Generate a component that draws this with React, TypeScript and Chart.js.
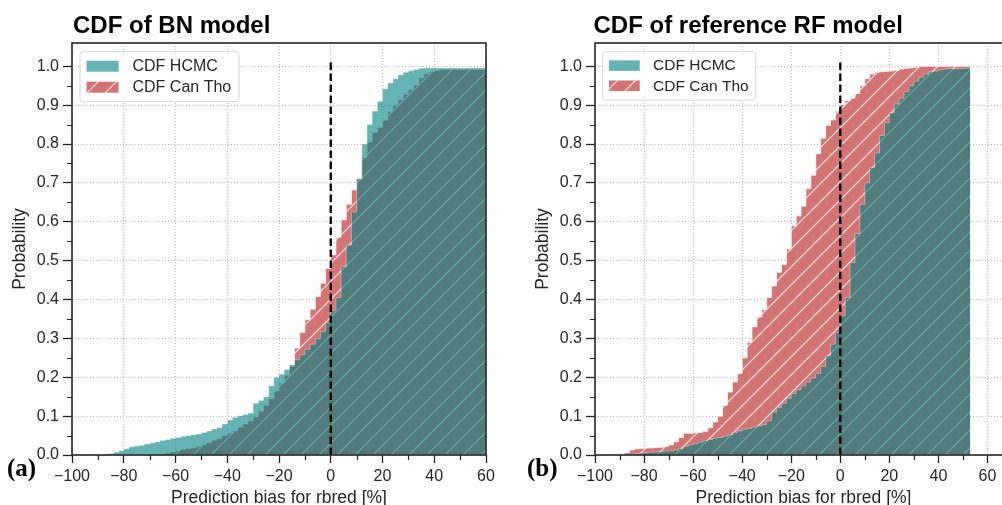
import React, { useEffect, useRef } from 'react';
import { Chart, registerables } from 'chart.js';

Chart.register(...registerables);

// ---------- data ----------
const xLeft = [-90, -88, -86, -84, -82, -80, -78, -76, -74, -72, -70, -68, -66, -64, -62, -60, -58, -56, -54, -52, -50, -48, -46, -44, -42, -40, -38, -36, -34, -32, -30, -28, -26, -24, -22, -20, -18, -16, -14, -12, -10, -8, -6, -4, -2, 0, 2, 4, 6, 8, 10, 12, 14, 16, 18, 20, 22, 24, 26, 28, 30, 32, 34, 36, 38, 40, 42, 44, 46, 48, 50, 52, 54, 56, 58, 60];
const hcmcLeft = [0, 0, 0.001, 0.003, 0.007, 0.011, 0.016, 0.021, 0.023, 0.025, 0.028, 0.031, 0.034, 0.037, 0.040, 0.043, 0.045, 0.048, 0.050, 0.052, 0.054, 0.058, 0.062, 0.067, 0.071, 0.080, 0.090, 0.097, 0.101, 0.104, 0.108, 0.133, 0.140, 0.150, 0.178, 0.200, 0.208, 0.220, 0.232, 0.245, 0.258, 0.272, 0.285, 0.299, 0.318, 0.340, 0.372, 0.405, 0.485, 0.540, 0.625, 0.710, 0.800, 0.850, 0.885, 0.910, 0.942, 0.957, 0.968, 0.978, 0.985, 0.989, 0.992, 0.995, 0.996, 0.996, 0.996, 0.996, 0.996, 0.996, 0.996, 0.996, 0.996, 0.996, 0.996, 0.996];
const canThoLeft = [0, 0, 0, 0, 0, 0, 0, 0, 0, 0, 0, 0, 0, 0.002, 0.005, 0.008, 0.011, 0.014, 0.017, 0.019, 0.022, 0.027, 0.032, 0.038, 0.043, 0.050, 0.056, 0.063, 0.072, 0.080, 0.088, 0.098, 0.113, 0.128, 0.145, 0.165, 0.185, 0.205, 0.228, 0.275, 0.315, 0.348, 0.375, 0.408, 0.442, 0.480, 0.515, 0.560, 0.605, 0.645, 0.682, 0.712, 0.765, 0.805, 0.830, 0.843, 0.862, 0.883, 0.900, 0.914, 0.928, 0.940, 0.952, 0.970, 0.981, 0.986, 0.989, 0.991, 0.992, 0.992, 0.992, 0.992, 0.992, 0.992, 0.992, 0.992];

const xRight = [-90, -88, -86, -84, -82, -80, -78, -76, -74, -72, -70, -68, -66, -64, -62, -60, -58, -56, -54, -52, -50, -48, -46, -44, -42, -40, -38, -36, -34, -32, -30, -28, -26, -24, -22, -20, -18, -16, -14, -12, -10, -8, -6, -4, -2, 0, 2, 4, 6, 8, 10, 12, 14, 16, 18, 20, 22, 24, 26, 28, 30, 32, 34, 36, 38, 40, 42, 44, 46, 48, 50, 52, 53];
const hcmcRight = [0, 0, 0, 0.002, 0.004, 0.005, 0.006, 0.007, 0.008, 0.009, 0.010, 0.011, 0.013, 0.017, 0.022, 0.026, 0.029, 0.033, 0.037, 0.040, 0.043, 0.045, 0.048, 0.052, 0.057, 0.062, 0.066, 0.069, 0.072, 0.075, 0.078, 0.088, 0.110, 0.122, 0.133, 0.146, 0.158, 0.168, 0.178, 0.188, 0.198, 0.210, 0.228, 0.255, 0.285, 0.315, 0.358, 0.405, 0.495, 0.570, 0.645, 0.700, 0.740, 0.777, 0.822, 0.855, 0.880, 0.903, 0.918, 0.935, 0.950, 0.962, 0.972, 0.980, 0.986, 0.988, 0.991, 0.993, 0.994, 0.994, 0.994, 0.995, 0.995];
const canThoRight = [0, 0.002, 0.006, 0.013, 0.016, 0.017, 0.018, 0.018, 0.019, 0.020, 0.022, 0.026, 0.034, 0.045, 0.056, 0.056, 0.057, 0.058, 0.061, 0.070, 0.085, 0.100, 0.128, 0.162, 0.188, 0.210, 0.250, 0.290, 0.330, 0.355, 0.374, 0.405, 0.435, 0.470, 0.490, 0.530, 0.590, 0.615, 0.640, 0.685, 0.720, 0.775, 0.815, 0.848, 0.862, 0.885, 0.902, 0.912, 0.918, 0.930, 0.950, 0.968, 0.980, 0.985, 0.986, 0.987, 0.988, 0.990, 0.993, 0.995, 0.996, 0.998, 1.0, 1.0, 1.0, 1.0, 1.0, 1.0, 1.0, 1.0, 1.0, 1.0, 1.0];

const refLineX = [0, 0];
const refLineY = [0, 1.01];

const xTickVals = [-100, -80, -60, -40, -20, 0, 20, 40, 60];
const xMinorVals = [-90, -70, -50, -30, -10, 10, 30, 50];
const yTickVals = [0, 0.1, 0.2, 0.3, 0.4, 0.5, 0.6, 0.7, 0.8, 0.9, 1.0];
const yMinorVals = [0.05, 0.15, 0.25, 0.35, 0.45, 0.55, 0.65, 0.75, 0.85, 0.95];

const seriesLabels = ['CDF HCMC', 'CDF Can Tho'];
const xAxisLabel = 'Prediction bias for rbred [%]';
const yAxisLabel = 'Probability';

// ---------- styles ----------
const SANS = '"Liberation Sans", Arial, sans-serif';
const SERIF = '"Liberation Serif", "Times New Roman", serif';
const TEAL = 'rgba(0,128,128,0.6)';
const RED = 'rgb(209,116,115)';
const TEXT = '#262626';

type PanelCfg = {
  left: number;
  width: number;
  padLeft: number;
  padRight: number;
  xMax: number;
  title: string;
  titleX: number;
  letter: string;
  letterX: number;
  legW: number;
  legH: number;
  legFont: number;
  legS: number;
  xs: number[];
  hcmc: number[];
  ct: number[];
};

const panels: PanelCfg[] = [
  {
    left: 0, width: 500, padLeft: 0, padRight: 14, xMax: 60,
    title: 'CDF of BN model', titleX: 73, letter: '(a)', letterX: 7,
    legW: 159, legH: 50, legFont: 16, legS: 1,
    xs: xLeft, hcmc: hcmcLeft, ct: canThoLeft,
  },
  {
    left: 500, width: 520, padLeft: 23, padRight: 8, xMax: 70,
    title: 'CDF of reference RF model', titleX: 93.5, letter: '(b)', letterX: 27,
    legW: 153, legH: 48.5, legFont: 15.5, legS: 0.96,
    xs: xRight, hcmc: hcmcRight, ct: canThoRight,
  },
];

function makeHatch(ctx: CanvasRenderingContext2D): CanvasPattern | string {
  const S = 18;
  const tile = document.createElement('canvas');
  tile.width = S;
  tile.height = S;
  const t = tile.getContext('2d');
  if (!t) return RED;
  t.fillStyle = RED;
  t.fillRect(0, 0, S, S);
  t.strokeStyle = 'rgba(255,236,236,0.95)';
  t.lineWidth = 1.2;
  t.beginPath();
  for (const k of [-1, 0, 1]) {
    t.moveTo(k * S, S);
    t.lineTo(k * S + S, 0);
  }
  t.stroke();
  return ctx.createPattern(tile, 'repeat') || RED;
}

const fmtX = (v: number) => (v < 0 ? '\u2212' + Math.abs(v) : String(v));

function Panel({ cfg }: { cfg: PanelCfg }) {
  const ref = useRef<HTMLCanvasElement>(null);
  useEffect(() => {
    const canvas = ref.current;
    if (!canvas) return;
    const ctx0 = canvas.getContext('2d') as CanvasRenderingContext2D;
    const hatch = makeHatch(ctx0);

    const decor = {
      id: 'decor',
      afterDraw(chart: any) {
        const { ctx, chartArea: a, scales } = chart;
        const xs = scales.x;
        const ys = scales.y;
        ctx.save();
        // spines
        ctx.strokeStyle = '#333';
        ctx.lineWidth = 1.7;
        ctx.strokeRect(a.left, a.top, a.right - a.left, a.bottom - a.top);
        // minor ticks
        ctx.strokeStyle = '#222';
        ctx.lineWidth = 1.2;
        ctx.beginPath();
        for (const v of xMinorVals) {
          const px = Math.round(xs.getPixelForValue(v)) + 0.5;
          ctx.moveTo(px, a.bottom);
          ctx.lineTo(px, a.bottom + 5);
        }
        for (const v of yMinorVals) {
          const py = Math.round(ys.getPixelForValue(v)) + 0.5;
          ctx.moveTo(a.left - 5, py);
          ctx.lineTo(a.left, py);
        }
        ctx.stroke();

        // legend
        const s = cfg.legS;
        const bx = a.left + 8 * s;
        const by = a.top + 8.7;
        ctx.beginPath();
        const r = 3;
        const w = cfg.legW;
        const h = cfg.legH;
        ctx.moveTo(bx + r, by);
        ctx.lineTo(bx + w - r, by);
        ctx.arcTo(bx + w, by, bx + w, by + r, r);
        ctx.lineTo(bx + w, by + h - r);
        ctx.arcTo(bx + w, by + h, bx + w - r, by + h, r);
        ctx.lineTo(bx + r, by + h);
        ctx.arcTo(bx, by + h, bx, by + h - r, r);
        ctx.lineTo(bx, by + r);
        ctx.arcTo(bx, by, bx + r, by, r);
        ctx.closePath();
        ctx.fillStyle = 'rgba(255,255,255,0.85)';
        ctx.fill();
        ctx.strokeStyle = '#d5d5d5';
        ctx.lineWidth = 1;
        ctx.stroke();
        const px0 = bx + 6.6 * s;
        const pw = 32 * s;
        const ph = 11 * s;
        const rows = [by + 9 * s, by + 30 * s];
        ctx.fillStyle = TEAL;
        ctx.fillRect(px0, rows[0], pw, ph);
        ctx.fillStyle = hatch;
        ctx.fillRect(px0, rows[1], pw, ph);
        ctx.fillStyle = TEXT;
        ctx.font = `${cfg.legFont}px ${SANS}`;
        ctx.textAlign = 'left';
        ctx.textBaseline = 'middle';
        ctx.fillText(seriesLabels[0], bx + 52.5 * s, rows[0] + ph / 2 + 0.5);
        ctx.fillText(seriesLabels[1], bx + 52.5 * s, rows[1] + ph / 2 + 0.5);

        // title
        ctx.fillStyle = '#000';
        ctx.font = `bold 24px ${SANS}`;
        ctx.textBaseline = 'alphabetic';
        ctx.fillText(cfg.title, cfg.titleX, 32.5);
        // panel letter
        ctx.font = `bold 25px ${SERIF}`;
        ctx.fillText(cfg.letter, cfg.letterX, 476);
        // axis labels
        ctx.fillStyle = TEXT;
        ctx.font = `17.5px ${SANS}`;
        ctx.textAlign = 'center';
        ctx.fillText(xAxisLabel, (a.left + a.right) / 2, 502.5);
        ctx.save();
        ctx.translate(a.left - 51.5, (a.top + a.bottom) / 2);
        ctx.rotate(-Math.PI / 2);
        ctx.textBaseline = 'middle';
        ctx.fillText(yAxisLabel, 0, 0);
        ctx.restore();
        ctx.restore();
      },
    };

    const chart = new Chart(canvas, {
      type: 'line',
      data: {
        datasets: [
          {
            label: seriesLabels[0],
            data: cfg.xs.map((x, i) => ({ x, y: cfg.hcmc[i] })),
            stepped: 'after',
            fill: 'origin',
            backgroundColor: TEAL,
            borderColor: 'rgba(255,255,255,0.35)',
            borderWidth: 1,
            pointRadius: 0,
            order: 1,
          },
          {
            label: seriesLabels[1],
            data: cfg.xs.map((x, i) => ({ x, y: cfg.ct[i] })),
            stepped: 'after',
            fill: 'origin',
            backgroundColor: hatch as any,
            borderColor: 'rgba(255,240,240,0.8)',
            borderWidth: 1,
            pointRadius: 0,
            order: 2,
          },
          {
            label: 'zero',
            data: refLineX.map((x, i) => ({ x, y: refLineY[i] })),
            borderColor: '#000',
            borderWidth: 2.3,
            borderDash: [7.5, 3.5],
            pointRadius: 0,
            fill: false,
            order: 0,
          },
        ],
      },
      options: {
        responsive: false,
        animation: false,
        events: [],
        layout: { padding: { left: cfg.padLeft, right: cfg.padRight, top: 43, bottom: 0 } },
        plugins: {
          legend: { display: false },
          tooltip: { enabled: false },
          title: { display: false },
        },
        scales: {
          x: {
            type: 'linear',
            min: -100,
            max: cfg.xMax,
            afterBuildTicks: (s: any) => {
              s.ticks = xTickVals.map((v) => ({ value: v }));
            },
            afterFit: (s: any) => {
              s.height = 50;
            },
            ticks: {
              callback: (v: any) => fmtX(Number(v)),
              font: { family: SANS, size: 16 },
              color: TEXT,
              padding: 4,
              maxRotation: 0,
              autoSkip: false,
            },
            grid: {
              color: 'rgba(0,0,0,0.3)',
              lineWidth: 0.9,
              tickColor: '#222',
              tickLength: 8,
              tickWidth: 1.3,
            },
            border: { display: false, dash: [1, 2] },
          },
          y: {
            type: 'linear',
            min: 0,
            max: 1.06,
            afterBuildTicks: (s: any) => {
              s.ticks = yTickVals.map((v) => ({ value: v }));
            },
            afterFit: (s: any) => {
              s.width = 72;
            },
            ticks: {
              callback: (v: any) => Number(v).toFixed(1),
              font: { family: SANS, size: 16 },
              color: TEXT,
              padding: 4,
              autoSkip: false,
            },
            grid: {
              color: 'rgba(0,0,0,0.3)',
              lineWidth: 0.9,
              tickColor: '#222',
              tickLength: 9,
              tickWidth: 1.3,
            },
            border: { display: false, dash: [1, 2] },
          },
        },
      } as any,
      plugins: [decor],
    });
    return () => chart.destroy();
  }, [cfg]);

  return (
    <canvas
      ref={ref}
      width={cfg.width}
      height={505}
      style={{ position: 'absolute', left: cfg.left, top: 0, display: 'block' }}
    />
  );
}

export default function App() {
  return (
    <div
      style={{
        position: 'fixed',
        left: 0,
        top: 0,
        width: 1002,
        height: 505,
        overflow: 'hidden',
        background: '#fff',
      }}
    >
      {panels.map((p) => (
        <Panel key={p.letter} cfg={p} />
      ))}
    </div>
  );
}
